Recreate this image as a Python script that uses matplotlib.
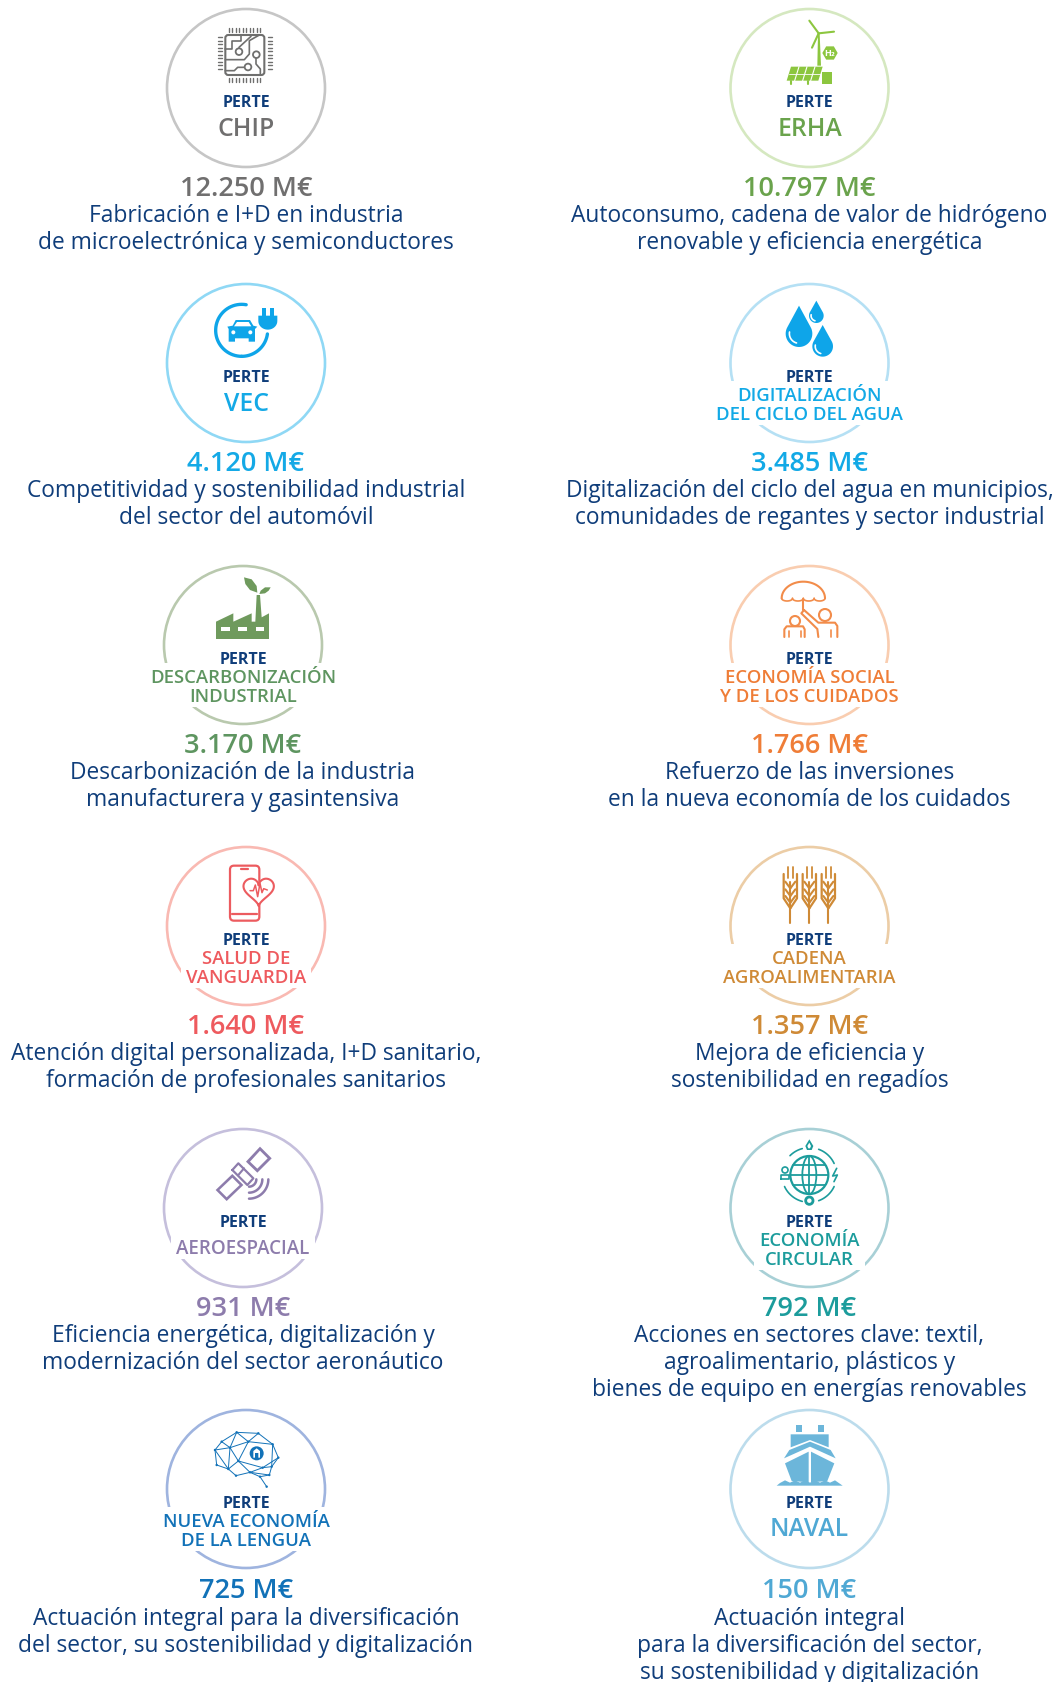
import numpy as np
import matplotlib
matplotlib.use('Agg')
import matplotlib.pyplot as plt
from matplotlib.patches import Circle, Rectangle, FancyBboxPatch, Polygon, Ellipse

plt.rcParams['font.family'] = ['Open Sans', 'DejaVu Sans']

names = [['CHIP'], ['ERHA'], ['VEC'], ['DIGITALIZACIÓN', 'DEL CICLO DEL AGUA'],
         ['DESCARBONIZACIÓN', 'INDUSTRIAL'], ['ECONOMÍA SOCIAL', 'Y DE LOS CUIDADOS'],
         ['SALUD DE', 'VANGUARDIA'], ['CADENA', 'AGROALIMENTARIA'],
         ['AEROESPACIAL'], ['ECONOMÍA', 'CIRCULAR'],
         ['NUEVA ECONOMÍA', 'DE LA LENGUA'], ['NAVAL']]
values = ['12.250 M€', '10.797 M€', '4.120 M€', '3.485 M€', '3.170 M€', '1.766 M€',
          '1.640 M€', '1.357 M€', '931 M€', '792 M€', '725 M€', '150 M€']
descs = [['Fabricación e I+D en industria', 'de microelectrónica y semiconductores'],
         ['Autoconsumo, cadena de valor de hidrógeno', 'renovable y eficiencia energética'],
         ['Competitividad y sostenibilidad industrial', 'del sector del automóvil'],
         ['Digitalización del ciclo del agua en municipios,', 'comunidades de regantes y sector industrial'],
         ['Descarbonización de la industria', 'manufacturera y gasintensiva'],
         ['Refuerzo de las inversiones', 'en la nueva economía de los cuidados'],
         ['Atención digital personalizada, I+D sanitario,', 'formación de profesionales sanitarios'],
         ['Mejora de eficiencia y', 'sostenibilidad en regadíos'],
         ['Eficiencia energética, digitalización y', 'modernización del sector aeronáutico'],
         ['Acciones en sectores clave: textil,', 'agroalimentario, plásticos y', 'bienes de equipo en energías renovables'],
         ['Actuación integral para la diversificación', 'del sector, su sostenibilidad y digitalización'],
         ['Actuación integral', 'para la diversificación del sector,', 'su sostenibilidad y digitalización']]
text_colors = ['#706f6f', '#6aa34c', '#14a9e6', '#12a9e6', '#5e9560', '#ef7d37',
               '#ee5a5e', '#cf8a36', '#8d7cac', '#1c9c9c', '#1272b8', '#4fa8d4']
ring_colors = ['#c6c6c6', '#d5e8c0', '#8fd8f5', '#b5e0f4', '#b9c9ae', '#f9cdb0',
               '#f9b9b2', '#eccda6', '#c5bfdc', '#a8d0d6', '#9fb4df', '#bcdcec']
icon_colors = ['#6f6f6e', '#8cc63f', '#0ea5e9', '#0ea5e9', '#6f9a5d', '#f28c4a',
               '#ec5b5f', '#cf8a36', '#8d7cac', '#1c9c9c', '#1272b8', '#6cb6da']
centers_x = [246, 809.5, 246, 809.5, 243, 809.5, 246, 809.5, 243, 809.5, 246, 809.5]
centers_y = [88, 88, 363, 363, 645, 645, 926, 926, 1208, 1208, 1489, 1489]
value_shift = [0, 0, 0, 0, 0, 0, 0, 0, 0, 0, 2, 2]
navy = '#0f3d7a'

fig = plt.figure(figsize=(10.57, 16.82), dpi=100)
ax = fig.add_axes([0, 0, 1, 1])
ax.set_xlim(0, 1057)
ax.set_ylim(1682, 0)
ax.axis('off')


def to_px(ox, oy, pts):
    return [(ox + x / 3, oy + y / 3) for x, y in pts]


def line(ox, oy, pts, c, lw=1.5, z=5):
    p = to_px(ox, oy, pts)
    ax.plot([a for a, b in p], [b for a, b in p], color=c, lw=lw, zorder=z,
            solid_capstyle='round', solid_joinstyle='round')


def fill(ox, oy, pts, c, z=5):
    ax.add_patch(Polygon(to_px(ox, oy, pts), closed=True, fc=c, ec='none', zorder=z))


def circ(ox, oy, x, y, r, fc='none', ec='none', lw=1.5, z=5):
    ax.add_patch(Circle((ox + x / 3, oy + y / 3), r / 3, fc=fc, ec=ec, lw=lw, zorder=z))


def arc(ox, oy, x, y, r, a1, a2, c, lw=1.5, z=5, ry=None):
    t = np.radians(np.linspace(a1, a2, 40))
    ry = r if ry is None else ry
    ax.plot(ox + (x + r * np.cos(t)) / 3, oy + (y + ry * np.sin(t)) / 3, color=c, lw=lw, zorder=z,
            solid_capstyle='round')


def chip(c):
    ox, oy = 1, -1
    ax.add_patch(FancyBboxPatch((ox + 673 / 3, oy + 108 / 3), 117 / 3, 120 / 3, boxstyle='round,pad=0,rounding_size=3',
                                fc='none', ec=c, lw=1.5, zorder=5))
    for k in range(10):
        u = 683 + k * 10.5
        line(ox, oy, [(u, 86), (u, 98)], c, 1.0)
        line(ox, oy, [(u, 237), (u, 250)], c, 1.0)
        v = 115 + k * 10.5
        line(ox, oy, [(650, v), (662, v)], c, 1.0)
        line(ox, oy, [(801, v), (813, v)], c, 1.0)
    line(ox, oy, [(673, 150), (693, 150), (693, 125), (720, 125), (720, 108)], c, 1.2)
    line(ox, oy, [(714, 145), (750, 112)], c, 1.2)
    line(ox, oy, [(673, 182), (730, 182), (745, 165), (745, 125), (775, 108)], c, 1.2)
    line(ox, oy, [(673, 215), (700, 215), (710, 205), (730, 205)], c, 1.2)
    line(ox, oy, [(765, 178), (765, 195), (778, 210), (778, 228)], c, 1.2)
    circ(ox, oy, 714, 158, 10, fc='white', ec=c, lw=1.3)
    circ(ox, oy, 766, 167, 10, fc='white', ec=c, lw=1.3)
    circ(ox, oy, 741, 204, 10, fc='white', ec=c, lw=1.3)


def erha(c):
    ox, oy = 530, -1
    fill(ox, oy, [(862, 200), (864, 105), (869, 105), (873, 200)], c)
    line(ox, oy, [(866, 103), (838, 65)], c, 1.5)
    line(ox, oy, [(866, 103), (912, 98)], c, 1.5)
    line(ox, oy, [(866, 103), (846, 146)], c, 1.5)
    t = np.radians(np.arange(0, 360, 60))
    fill(ox, oy, list(zip(900 + 23 * np.cos(t), 162 + 23 * np.sin(t))), c)
    ax.text(ox + 900 / 3, oy + 162 / 3, 'H₂', color='white', fontsize=6.5, fontweight='bold',
            ha='center', va='center', zorder=6)
    fill(ox, oy, [(783, 203), (878, 203), (865, 245), (770, 245)], c)
    for k in range(1, 4):
        line(ox, oy, [(783 + k * 24, 203), (770 + k * 24, 245)], 'white', 0.8, z=6)
    line(ox, oy, [(777, 224), (872, 224)], 'white', 0.6, z=6)
    line(ox, oy, [(782, 245), (782, 255)], c, 1.5)
    line(ox, oy, [(833, 245), (833, 255)], c, 1.5)
    ax.add_patch(Rectangle((ox + 876 / 3, oy + 218 / 3), 31 / 3, 37 / 3, fc=c, ec='none', zorder=5))


def vec(c):
    ox, oy = 170, 285
    arc(ox, oy, 215, 136, 78, -80, -270, c, 2.4)
    arc(ox, oy, 215, 136, 78, 90, 8, c, 2.4)
    for u in (275, 300):
        ax.add_patch(Rectangle((ox + u / 3, oy + 68 / 3), 12 / 3, 30 / 3, fc=c, ec='none', zorder=5))
    t = np.radians(np.linspace(0, 180, 20))
    fill(ox, oy, [(265, 92), (322, 92)] + list(zip(293.5 + 28.5 * np.cos(t), 108 + 26 * np.sin(t))), c)
    fill(ox, oy, [(172, 125), (188, 122), (197, 105), (240, 105), (250, 122), (262, 125), (255, 132),
                  (255, 170), (236, 170), (236, 160), (195, 160), (195, 170), (176, 170), (176, 132)], c)
    fill(ox, oy, [(192, 124), (201, 111), (236, 111), (244, 124)], 'white', z=6)
    circ(ox, oy, 190, 142, 6, fc='white', z=6)
    circ(ox, oy, 241, 142, 6, fc='white', z=6)


def drop(ox, oy, x, tip, cy, r, c):
    t = np.radians(np.linspace(-30, 210, 40))
    pts = [(x, tip)] + list(zip(x + r * np.cos(t), cy + r * np.sin(t)))
    fill(ox, oy, pts, c)
    arc(ox, oy, x, cy, r * 0.72, 105, 190, 'white', 1.2, z=6)


def agua(c):
    ox, oy = 730, 285
    drop(ox, oy, 207, 62, 146, 40, c)
    drop(ox, oy, 259, 47, 92, 22, c)
    drop(ox, oy, 278, 120, 184, 31, c)


def descarb(c):
    ox, oy = 100, 560
    fill(ox, oy, [(348, 237), (348, 185), (400, 160), (400, 185), (455, 160), (455, 185), (466, 185),
                  (470, 105), (480, 105), (485, 172), (507, 160), (507, 237)], c)
    for u in (363, 415, 467):
        ax.add_patch(Rectangle((ox + u / 3, oy + 200 / 3), 26 / 3, 12 / 3, fc='white', ec='none', zorder=6))
    fill(ox, oy, [(432, 52), (455, 58), (470, 78), (472, 98), (450, 90), (436, 72)], c)
    fill(ox, oy, [(512, 82), (495, 82), (482, 92), (478, 102), (495, 100), (506, 92)], c)


def social(c):
    ox, oy = 730, 565
    arc(ox, oy, 220, 100, 65, 180, 360, c, 1.5, ry=50)
    for k in range(4):
        u = 155 + k * 32.5
        arc(ox, oy, u + 16.2, 100, 16.2, 180, 360, c, 1.2, ry=-8)
    line(ox, oy, [(220, 102), (220, 135)], c, 1.5)
    circ(ox, oy, 195, 168, 15, ec=c)
    line(ox, oy, [(163, 216), (163, 193), (170, 184), (219, 184), (224, 193), (224, 216)], c, 1.5)
    line(ox, oy, [(178, 216), (178, 198)], c, 1.2)
    line(ox, oy, [(212, 216), (212, 198)], c, 1.2)
    circ(ox, oy, 285, 150, 18, ec=c)
    line(ox, oy, [(222, 135), (214, 145), (262, 192), (265, 216)], c, 1.5)
    line(ox, oy, [(222, 135), (265, 173), (315, 173), (322, 183), (322, 216)], c, 1.5)
    line(ox, oy, [(303, 216), (303, 195)], c, 1.2)


def salud(c):
    ox, oy = 170, 850
    ax.add_patch(FancyBboxPatch((ox + 180 / 3, oy + 47 / 3), 88 / 3, 165 / 3, boxstyle='round,pad=0,rounding_size=4',
                                fc='white', ec=c, lw=1.6, zorder=5))
    line(ox, oy, [(213, 58), (233, 58)], c, 1.6)
    line(ox, oy, [(187, 192), (260, 192)], c, 1.6)
    t = np.linspace(0, 2 * np.pi, 80)
    hx = 16 * np.sin(t) ** 3
    hy = 13 * np.cos(t) - 5 * np.cos(2 * t) - 2 * np.cos(3 * t) - np.cos(4 * t)
    fill(ox, oy, list(zip(266 + 2.85 * hx, 120 - 2.85 * hy)), 'white', z=6)
    line(ox, oy, list(zip(266 + 2.85 * hx, 120 - 2.85 * hy)), c, 1.5, z=7)
    line(ox, oy, [(240, 122), (250, 122), (256, 105), (263, 140), (270, 100), (276, 128), (281, 116), (292, 120)], c, 1.1, z=7)


def agro(c):
    ox, oy = 730, 850
    for u in (181, 238, 295):
        line(ox, oy, [(u, 218), (u, 95)], c, 1.5)
        line(ox, oy, [(u - 7, 52), (u - 7, 85)], c, 1.3)
        line(ox, oy, [(u + 7, 52), (u + 7, 85)], c, 1.3)
        for s in (-1, 1):
            line(ox, oy, [(u + s * 20, 72), (u + s * 20, 145), (u, 175)], c, 1.6)
            for v in (115, 138, 158):
                line(ox, oy, [(u, v), (u + s * 15, v - 20)], c, 1.5)


def aero(c):
    ox, oy = 170, 1130
    fill(ox, oy, [(137, 180), (187, 132), (220, 165), (170, 213)], c)
    fill(ox, oy, [(148, 180), (187, 143), (209, 165), (170, 202)], 'white', z=6)
    fill(ox, oy, [(228, 95), (270, 50), (305, 85), (262, 128)], c)
    fill(ox, oy, [(240, 95), (270, 62), (293, 85), (262, 116)], 'white', z=6)
    line(ox, oy, [(187, 120), (205, 100), (250, 145), (232, 165), (187, 120)], c, 1.6, z=7)
    line(ox, oy, [(205, 135), (222, 115)], c, 1.5, z=7)
    for r in (22, 40, 58):
        arc(ox, oy, 237, 148, r, 0, 90, c, 1.8)


def circular(c):
    ox, oy = 730, 1130
    circ(ox, oy, 238, 135, 57, ec=c, lw=1.6)
    ax.add_patch(Ellipse((ox + 238 / 3, oy + 135 / 3), 14, 38, fc='none', ec=c, lw=1.3, zorder=5))
    line(ox, oy, [(238, 78), (238, 192)], c, 1.3)
    for v in (105, 135, 165):
        hw = np.sqrt(57 ** 2 - (v - 135) ** 2)
        line(ox, oy, [(238 - hw, v), (238 + hw, v)], c, 1.3)
    for a1, a2 in ((-135, -105), (-70, -25), (25, 70), (105, 155)):
        arc(ox, oy, 238, 135, 82, a1, a2, c, 1.2)
    fill(ox, oy, [(238, 28), (250, 48), (245, 60), (231, 60), (226, 48)], c)
    fill(ox, oy, [(238, 38), (243, 48), (240, 55), (235, 55), (232, 48)], 'white', z=6)
    circ(ox, oy, 165, 120, 9, ec=c, lw=1.2)
    line(ox, oy, [(153, 148), (153, 134), (177, 134), (177, 148), (153, 148)], c, 1.2)
    line(ox, oy, [(320, 115), (308, 138), (322, 135), (312, 155)], c, 1.2)
    circ(ox, oy, 238, 212, 11, ec=c, lw=2.0)


def lengua(c):
    ox, oy = 170, 1415
    nodes = [(200, 52), (265, 55), (155, 80), (235, 80), (308, 88), (135, 105), (180, 98),
             (325, 128), (205, 138), (140, 150), (278, 158), (175, 162), (305, 155),
             (198, 182), (240, 172), (298, 180), (270, 185), (290, 215)]
    edges = [(0, 1), (0, 2), (0, 3), (1, 3), (1, 4), (2, 5), (2, 6), (3, 6), (3, 4), (4, 7), (5, 6), (5, 9),
             (6, 8), (6, 11), (8, 3), (8, 11), (9, 11), (11, 13), (13, 14), (8, 14), (14, 10), (10, 12),
             (12, 7), (10, 7), (14, 16), (16, 15), (15, 12), (16, 17), (14, 15), (4, 12), (5, 11), (0, 6), (8, 10)]
    for a, b in edges:
        line(ox, oy, [nodes[a], nodes[b]], c, 0.7)
    for x, y in nodes:
        circ(ox, oy, x, y, 3.6, fc=c, z=6)
    circ(ox, oy, 260, 115, 21, fc=c, z=7)
    fill(ox, oy, [(250, 128), (250, 108), (260, 100), (270, 108), (270, 128), (265, 128), (265, 114), (255, 114), (255, 128)],
         'white', z=8)


def naval(c):
    ox, oy = 730, 1415
    for u in (198, 265):
        ax.add_patch(Rectangle((ox + u / 3, oy + 30 / 3), 17 / 3, 20 / 3, fc=c, ec='none', zorder=5))
    fill(ox, oy, [(182, 58), (296, 58), (296, 97), (240, 75), (182, 97)], c)
    fill(ox, oy, [(162, 130), (178, 105), (240, 80), (302, 105), (317, 130), (240, 95)], c)
    fill(ox, oy, [(165, 145), (236, 110), (236, 202), (185, 198)], c)
    fill(ox, oy, [(313, 145), (243, 110), (243, 202), (292, 198)], c)
    x = [140, 150, 165, 180, 195, 210, 225, 240, 255, 270, 285, 300, 315, 338]
    y = [212, 204, 196, 203, 196, 203, 196, 203, 196, 203, 196, 203, 196, 212]
    fill(ox, oy, list(zip(x, y)), c, z=6)


icons = [chip, erha, vec, agua, descarb, social, salud, agro, aero, circular, lengua, naval]
renderer = fig.canvas.get_renderer()

for i in range(len(names)):
    cx, cy = centers_x[i], centers_y[i]
    ax.add_patch(Circle((cx, cy), 79, fc='white', ec=ring_colors[i], lw=1.9, zorder=1))
    icons[i](icon_colors[i])
    ax.text(cx, cy + 15, 'PERTE', color=navy, fontsize=11.5, fontweight='bold', ha='center', va='center', zorder=4)
    if len(names[i]) == 1:
        fs = 13.5 if names[i][0] == 'AEROESPACIAL' else 17.8
        rows = [(names[i][0], cy + 41, fs)]
    else:
        rows = [(s, cy + 33 + k * 19, 13.3) for k, s in enumerate(names[i])]
    widest = 0
    for s, y, fs in rows:
        t = ax.text(cx, y, s, color=text_colors[i], fontsize=fs, fontweight='semibold',
                    ha='center', va='center', zorder=4)
        widest = max(widest, t.get_window_extent(renderer).width)
    # the ring stops where the name crosses it
    ax.add_patch(Rectangle((cx - widest / 2 - 5, cy + 18), widest + 10, rows[-1][1] + 10 - cy - 18,
                           fc='white', ec='none', zorder=2))
    dy = value_shift[i]
    ax.text(cx, cy + 100.5 + dy, values[i], color=text_colors[i], fontsize=19.5, fontweight='semibold',
            ha='center', va='center', zorder=4)
    for k, s in enumerate(descs[i]):
        ax.text(cx, cy + 128 + dy + k * 27, s, color=navy, fontsize=16.4, ha='center', va='center', zorder=4)

fig.savefig('out.png', dpi=100, facecolor='white')
